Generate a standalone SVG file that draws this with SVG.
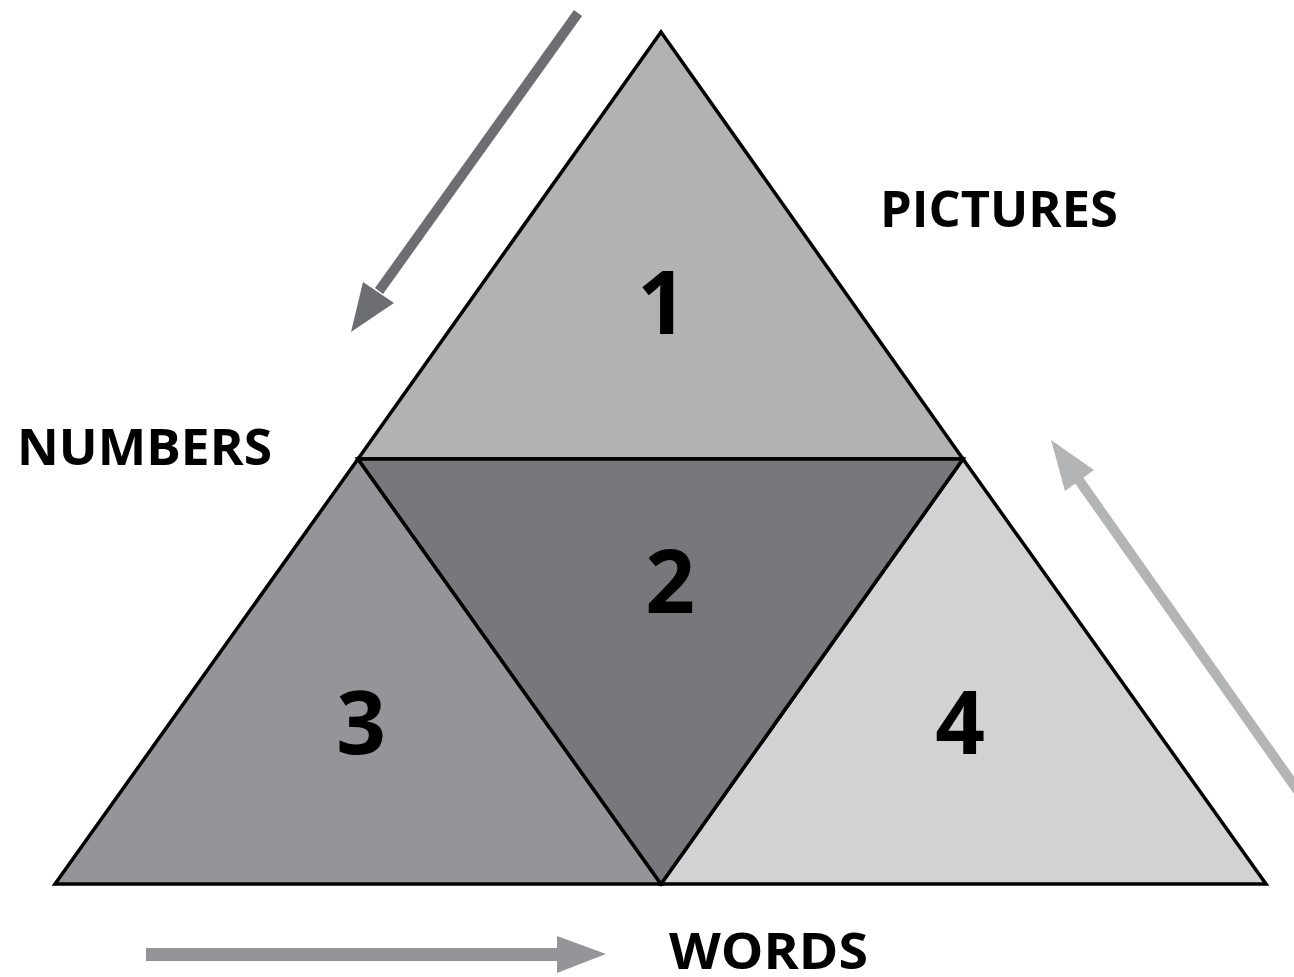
<svg xmlns="http://www.w3.org/2000/svg" width="1294" height="977" viewBox="0 0 1294 977">
  <style>
    .tri { stroke: #000; stroke-width: 3.5; stroke-linejoin: miter; }
    .num { font-family: "Open Sans", "Liberation Sans", sans-serif; font-weight: bold; font-size: 87px; fill: #000; text-anchor: middle; }
    .lbl { font-family: "Open Sans", "Liberation Sans", sans-serif; font-weight: bold; font-size: 51px; fill: #000; }
  </style>
  <rect width="1294" height="977" fill="#fff"/>

  <!-- direction arrows around the triangle -->
  <g id="connectors">
    <g id="arrow-numbers">
      <line x1="578" y1="13" x2="379" y2="291" stroke="#6d6e71" stroke-width="10"/>
      <polygon points="351,332 363,282 394,303" fill="#6d6e71"/>
    </g>
    <g id="arrow-pictures">
      <line x1="1310" y1="808" x2="1076" y2="476" stroke="#b3b4b6" stroke-width="10"/>
      <polygon points="1051,440 1065,491 1094,470" fill="#b3b4b6"/>
    </g>
    <g id="arrow-words">
      <rect x="146" y="948" width="414" height="13" fill="#939598"/>
      <polygon points="557,936 606,954 557,973" fill="#939598"/>
    </g>
  </g>

  <!-- four sub-triangles -->
  <g id="zone-1">
    <polygon class="tri" points="661,32 358,459 963,459" fill="#b1b2b4"/>
    <text class="num" x="662" y="334">1</text>
  </g>
  <g id="zone-3">
    <polygon class="tri" points="358,459 55,884 661,884" fill="#939598"/>
    <text class="num" x="361" y="754">3</text>
  </g>
  <g id="zone-4">
    <polygon class="tri" points="963,459 661,884 1266,884" fill="#d1d2d4"/>
    <text class="num" x="960" y="754">4</text>
  </g>
  <g id="zone-2">
    <polygon class="tri" points="358,459 963,459 661,884" fill="#77787b"/>
    <text class="num" x="670" y="613">2</text>
  </g>

  <!-- side labels -->
  <g id="label-pictures"><text class="lbl" x="880" y="227" textLength="238" lengthAdjust="spacingAndGlyphs">PICTURES</text></g>
  <g id="label-numbers"><text class="lbl" x="17" y="465" textLength="255" lengthAdjust="spacingAndGlyphs">NUMBERS</text></g>
  <g id="label-words"><text class="lbl" x="669" y="969" textLength="199" lengthAdjust="spacingAndGlyphs">WORDS</text></g>
</svg>
